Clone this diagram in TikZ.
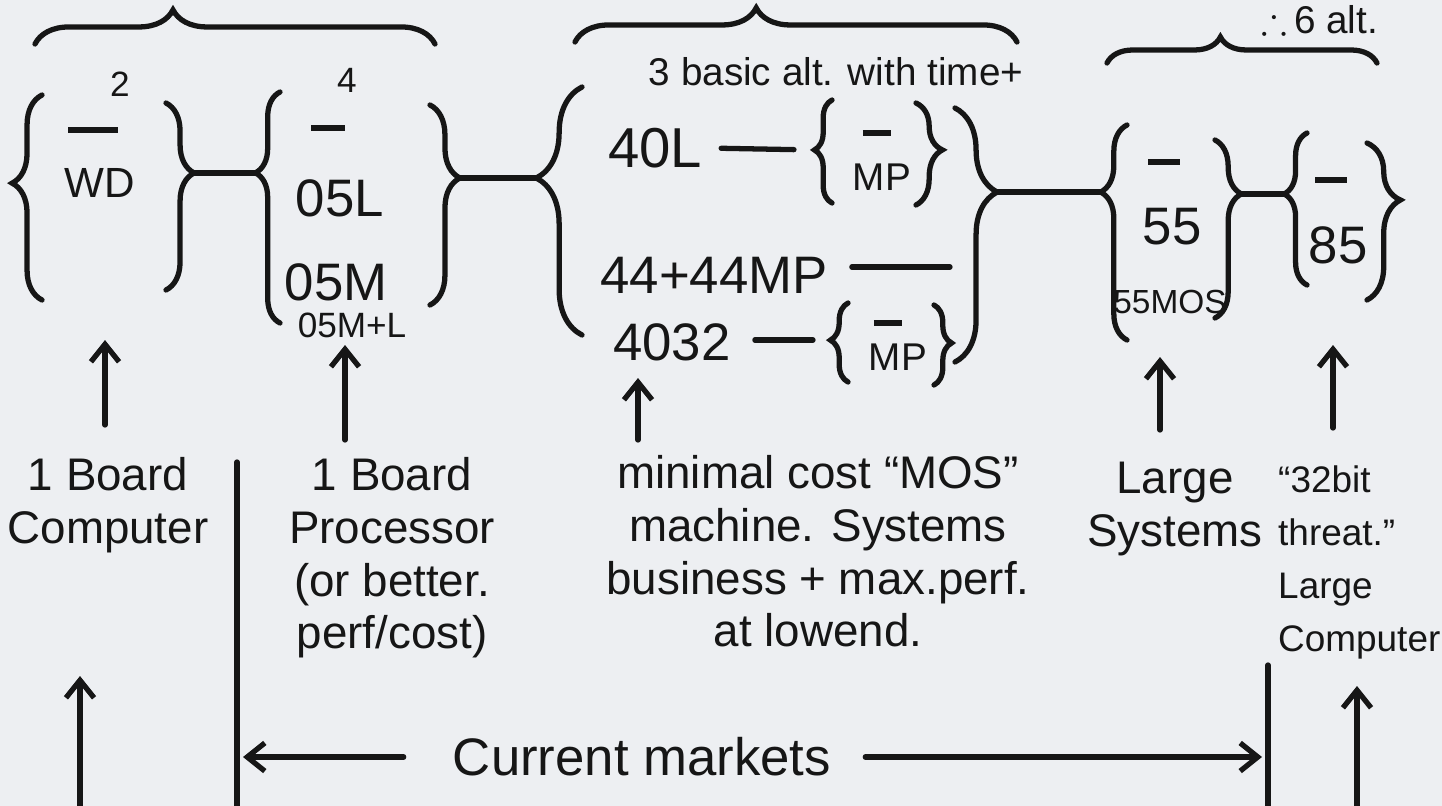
\documentclass[tikz,border=0pt]{standalone}
\usepackage{fontspec}
\usepackage{amsmath,amssymb}
\setmainfont{Liberation Sans}
\usepackage{tikz}
\usetikzlibrary{arrows.meta,positioning,decorations.pathreplacing}
\definecolor{SketchInk}{HTML}{161616}
\definecolor{SketchPaper}{HTML}{EDEFF2}
\newcommand\nonebar[1]{\rule{#1}{1.7pt}}

\begin{document}
\begin{tikzpicture}[x=0.01cm,y=-0.01cm,
    ink/.style={draw=SketchInk,line width=1.5pt,line cap=round},
    curly/.style 2 args={ink,decorate,decoration={brace,amplitude=#1,aspect=#2}},
    uparrow/.style={ink,-{Straight Barb[length=5pt,width=8pt]}},
    blank/.style={text=SketchInk,inner sep=0pt},
    choice/.style={text=SketchInk,inner sep=1pt,font=\fontsize{15}{18}\selectfont},
    mpchoice/.style={text=SketchInk,inner sep=1pt,font=\fontsize{11}{13}\selectfont},
    minor/.style={text=SketchInk,inner sep=1pt,font=\fontsize{10}{12}\selectfont},
    note/.style={text=SketchInk,inner sep=1pt,font=\fontsize{11}{13}\selectfont},
    market/.style={text=SketchInk,align=center,font=\fontsize{13}{15}\selectfont}]
  \fill[SketchPaper] (0,0) rectangle (1442,806);
  \useasboundingbox (0,0) rectangle (1442,806);

  \draw[curly={9.7pt}{0.345}] (35,44) -- (435,44);
  \draw[curly={9.7pt}{0.41}] (575,42) -- (1017,42);
  \draw[curly={7.4pt}{0.42}] (1107,63) -- (1377,63);
  \node[note] (sixalt) at (1320,20) {$\therefore$\,6 alt.};
  \node[note] (basicalt) at (836,72) {3 basic alt. with time+};

  \node[minor] (two) at (120,84) {2};
  \node[blank] (wdnone) at (93,130) {\nonebar{14pt}};
  \node[choice,font=\fontsize{12}{14}\selectfont] (wd) at (100,183) {WD};
  \draw[curly={8.5pt}{0.57}] (42,300) -- (42,95);
  \draw[curly={8pt}{0.374}] (166,103) -- (166,290);
  \coordinate (wdout) at (194,173);

  \node[minor] (four) at (347,80) {4};
  \node[blank] (osnone) at (328,128) {\nonebar{9.5pt}};
  \node[choice] (osl) at (340,198) {05L};
  \node[choice] (osm) at (336,282) {05M};
  \node[minor] (osml) at (352,325) {05M+L};
  \draw[curly={7pt}{0.65}] (280,323) -- (280,92);
  \draw[curly={8.5pt}{0.365}] (430,105) -- (430,305);
  \coordinate (osin) at (255,173);
  \coordinate (osout) at (460,178);

  \node[choice,font=\fontsize{16}{19}\selectfont] (fortyl) at (655,148) {40L};
  \node[blank] (mpanone) at (877,133) {\nonebar{8pt}};
  \node[mpchoice] (mpa) at (882,177) {MP};
  \draw[curly={5pt}{0.515}] (832,203) -- (832,100);
  \draw[curly={7.5pt}{0.46}] (916,103) -- (916,205);
  \coordinate (mpain) at (814,150);
  \node[choice] (fortyfour) at (714,275) {44+44MP};
  \coordinate (fortyfourend) at (950,267);
  \node[choice] (fortythirtytwo) at (672,342) {4032};
  \node[blank] (mpbnone) at (888,323) {\nonebar{8pt}};
  \node[mpchoice] (mpb) at (898,357) {MP};
  \draw[curly={5pt}{0.53}] (848,382) -- (848,303);
  \draw[curly={5pt}{0.475}] (934,305) -- (934,385);
  \coordinate (mpbin) at (830,340);
  \draw[curly={13pt}{0.633}] (582,335) -- (582,87);
  \draw[curly={12pt}{0.331}] (955,108) -- (955,362);
  \coordinate (altin) at (536,178);
  \coordinate (altout) at (997,192);

  \node[blank] (lsnone) at (1164,162) {\nonebar{9pt}};
  \node[choice] (ls) at (1172,227) {55};
  \node[choice,font=\fontsize{9.5}{11}\selectfont] (lsmos) at (1170,302) {55MOS};
  \draw[curly={7.5pt}{0.688}] (1127,340) -- (1127,125);
  \draw[curly={7.5pt}{0.303}] (1215,140) -- (1215,318);
  \coordinate (lsin) at (1101,192);
  \coordinate (lsout) at (1241,194);

  \node[blank] (eightnone) at (1331,180) {\nonebar{9pt}};
  \node[choice] (eight) at (1338,245) {85};
  \draw[curly={6.5pt}{0.599}] (1307,285) -- (1307,133);
  \draw[curly={9.5pt}{0.363}] (1367,143) -- (1367,300);
  \coordinate (eightin) at (1284,194);

  \draw[ink] (wdout) -- (osin);
  \draw[ink] (osout) -- (altin);
  \draw[ink] (altout) -- (lsin);
  \draw[ink] (lsout) -- (eightin);
  \draw[ink,shorten <=0.15cm,shorten >=0.2cm] (fortyl.east) -- (mpain);
  \draw[ink,shorten <=0.2cm] (fortyfour.east |- fortyfourend) -- (fortyfourend);
  \draw[ink,shorten <=0.2cm,shorten >=0.17cm] (fortythirtytwo.east |- mpbin) -- (mpbin);

  \node[market,anchor=north] (lblboard) at (108,445) {1 Board\\Computer};
  \node[market,anchor=north] (lblproc) at (392,445) {1 Board\\Processor\\(or better.\\perf/cost)};
  \node[market,anchor=north] (lblmos) at (818,443) {minimal cost “MOS”\\machine. Systems\\business + max.perf.\\at lowend.};
  \node[market,anchor=north] (lbllarge) at (1175,450) {Large\\Systems};
  \node[market,font=\fontsize{10.5}{15}\selectfont,align=left,anchor=north west,inner sep=1pt] (lblthreat) at (1274,462) {“32bit\\threat.”\\Large\\Computer};

  \coordinate (wdfoot) at (105,340);
  \coordinate (boardtop) at (105,425);
  \coordinate (osfoot) at (345,345);
  \coordinate (proctop) at (345,440);
  \coordinate (altfoot) at (638,378);
  \coordinate (mostop) at (638,440);
  \coordinate (lsfoot) at (1160,357);
  \coordinate (largetop) at (1160,430);
  \coordinate (eightfoot) at (1333,345);
  \coordinate (threattop) at (1333,428);
  \draw[uparrow] (boardtop) -- (wdfoot);
  \draw[uparrow] (proctop) -- (osfoot);
  \draw[uparrow] (mostop) -- (altfoot);
  \draw[uparrow] (largetop) -- (lsfoot);
  \draw[uparrow] (threattop) -- (eightfoot);

  \coordinate (splitlefttop) at (237,462);
  \coordinate (splitleftbot) at (237,806);
  \coordinate (splitrighttop) at (1268,665);
  \coordinate (splitrightbot) at (1268,806);
  \draw[ink] (splitlefttop) -- (splitleftbot);
  \draw[ink] (splitrighttop) -- (splitrightbot);
  \node[choice] (markets) at (642,757) {Current markets};
  \coordinate (marketsleft) at (243,757);
  \coordinate (marketsright) at (1262,757);
  \draw[uparrow,shorten <=0.45cm] (markets.west) -- (marketsleft);
  \draw[uparrow,shorten <=0.3cm] (markets.east) -- (marketsright);
  \coordinate (futureleft) at (80,806);
  \coordinate (futurelefttip) at (80,676);
  \coordinate (futureright) at (1357,806);
  \coordinate (futurerighttip) at (1357,686);
  \draw[uparrow] (futureleft) -- (futurelefttip);
  \draw[uparrow] (futureright) -- (futurerighttip);
\end{tikzpicture}
\end{document}
